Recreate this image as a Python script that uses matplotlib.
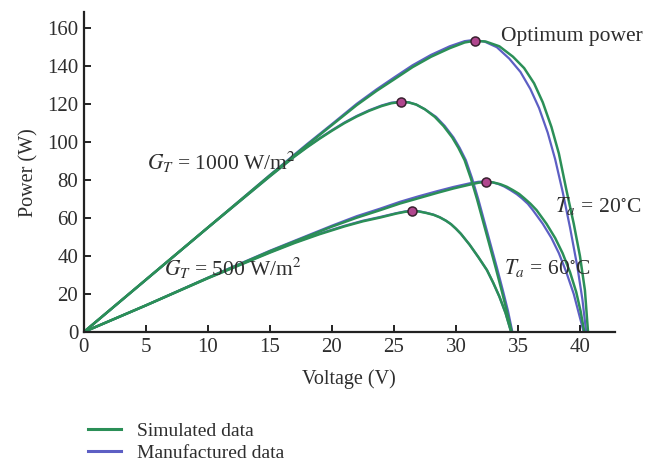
import matplotlib.pyplot as plt
from matplotlib.lines import Line2D

# values (voltage in V, power in W)
# G = 1000 W/m2, Ta = 20 C
v_a_sim = [0, 5, 10, 15, 18, 20, 22, 23.6, 25, 26.5, 28, 29.5, 30.7, 31.5, 32.4, 33.5, 34.6, 35.5, 36.3, 37.0, 37.7, 38.3, 38.9, 39.5, 40.0, 40.4, 40.65]
p_a_sim = [0, 27.5, 55, 82.5, 98.5, 109, 119.5, 127, 133, 139.5, 145, 149.5, 152.5, 153.4, 153, 150.5, 145, 139, 131, 121, 108, 94, 75, 57, 40, 22, 0]
v_a_man = [0, 5, 10, 15, 18, 20, 22, 23.6, 25, 26.5, 28, 29.5, 30.7, 31.4, 32.3, 33.3, 34.3, 35.2, 36.0, 36.7, 37.4, 38.0, 38.6, 39.2, 39.8, 40.2, 40.5]
p_a_man = [0, 27.5, 55, 82.7, 99, 109.5, 120.2, 127.8, 134, 140.5, 146, 150.5, 153.2, 153.8, 153, 150, 144, 137, 128, 118, 105, 91, 74, 55, 34, 17, 0]

# G = 1000 W/m2, Ta = 60 C
v_b_sim = [0, 5, 10, 15, 17, 18, 19, 20, 21, 22, 23, 24, 24.8, 25.6, 26.2, 26.8, 27.5, 28.3, 29.0, 29.7, 30.2, 30.7, 31.2, 31.7, 32.2, 32.7, 33.2, 33.7, 34.1, 34.5]
p_b_sim = [0, 27.5, 55, 82, 92.5, 97.3, 101.8, 106, 110, 113.5, 116.5, 119, 120.5, 121.2, 120.9, 119.8, 117.3, 113.3, 108.5, 102.5, 97, 90.5, 81, 70, 58, 46, 34, 21.5, 11, 0]
v_b_man = [0, 5, 10, 15, 17, 18, 19, 20, 21, 22, 23, 24, 24.8, 25.6, 26.2, 26.8, 27.5, 28.4, 29.1, 29.8, 30.3, 30.8, 31.3, 31.8, 32.3, 32.8, 33.3, 33.8, 34.2, 34.55]
p_b_man = [0, 27.5, 55, 82, 92.6, 97.5, 102, 106.3, 110.3, 113.8, 116.8, 119.3, 120.8, 121.3, 121, 119.8, 117.3, 113.3, 108.5, 102.5, 97, 90.5, 81, 70, 58, 46, 34, 21.5, 11, 0]

# G = 500 W/m2, Ta = 20 C
v_c_sim = [0, 5, 10, 15, 20, 22, 23.9, 25.5, 27, 28.5, 29.8, 31.1, 31.8, 32.4, 33.0, 33.6, 34.1, 34.6, 35.1, 35.5, 36.0, 36.5, 37.3, 38.0, 38.6, 39.2, 39.7, 40.05, 40.35]
p_c_sim = [0, 14, 28.5, 42.5, 55.5, 60.2, 64.2, 67.7, 70.5, 73.3, 75.6, 77.6, 78.6, 79.1, 78.8, 77.8, 76.5, 74.7, 72.7, 70.5, 67.6, 64.2, 57, 49.5, 41.5, 31.5, 21, 11, 0]
v_c_man = [0, 5, 10, 15, 20, 22, 23.9, 25.5, 27, 28.5, 29.8, 31.1, 31.8, 32.3, 32.9, 33.4, 33.9, 34.4, 34.9, 35.3, 35.8, 36.2, 37.0, 37.7, 38.3, 38.9, 39.5, 39.9, 40.3]
p_c_man = [0, 14, 28.6, 42.8, 56, 61, 65, 68.6, 71.5, 74.2, 76.4, 78.3, 79.1, 79.3, 78.9, 78, 76.6, 74.7, 72.6, 70.5, 67.5, 64.2, 57, 49.5, 41.5, 31.5, 20, 10, 0]

# G = 500 W/m2, Ta = 60 C
v_d_sim = [0, 5, 10, 15, 17, 19, 21, 22.5, 23.9, 25.2, 25.9, 26.45, 27.0, 27.6, 28.2, 28.7, 29.2, 29.6, 30.0, 30.4, 31.1, 31.8, 32.5, 33.0, 33.5, 34.0, 34.45]
p_d_sim = [0, 14, 28.3, 41.8, 46.9, 51.5, 55.6, 58.3, 60.3, 62.4, 63.3, 63.7, 63.5, 62.7, 61.7, 60.4, 58.6, 56.8, 54.4, 51.7, 46, 39.5, 32.6, 26, 18.7, 10, 0]
v_d_man = [0, 5, 10, 15, 17, 19, 21, 22.5, 23.9, 25.2, 25.9, 26.45, 27.0, 27.6, 28.2, 28.7, 29.2, 29.6, 30.0, 30.4, 31.1, 31.8, 32.5, 33.0, 33.5, 34.0, 34.45]
p_d_man = [0, 14, 28.4, 42, 47.2, 51.8, 55.9, 58.6, 60.6, 62.6, 63.5, 63.8, 63.6, 62.8, 61.8, 60.4, 58.6, 56.8, 54.4, 51.7, 46, 39.5, 32.6, 26, 18.7, 10, 0]

# optimum power points
peak_v = [31.5, 25.6, 32.4, 26.45]
peak_p = [153.4, 121.2, 79.1, 63.7]

green = '#2b8f57'
blue = '#5d5fc4'
txt = '#2e2e2e'

plt.rcParams['font.family'] = ['Liberation Serif', 'DejaVu Serif']
plt.rcParams['mathtext.fontset'] = 'stix'

fig = plt.figure(figsize=(6.45, 4.66), dpi=100)
ax = fig.add_axes([0.130, 0.2876, 0.823, 0.686])

man = [(v_a_man, p_a_man), (v_b_man, p_b_man), (v_c_man, p_c_man), (v_d_man, p_d_man)]
sim = [(v_a_sim, p_a_sim), (v_b_sim, p_b_sim), (v_c_sim, p_c_sim), (v_d_sim, p_d_sim)]
for v, p in man:
    ax.plot(v, p, color=blue, lw=1.6, solid_joinstyle='round')
for v, p in sim:
    ax.plot(v, p, color=green, lw=1.8, solid_joinstyle='round')

ax.plot(peak_v, peak_p, 'o', ms=6.5, mfc='#b0468e', mec='#3a2030', mew=1.1, zorder=5)

ax.set_xlim(0, 42.8)
ax.set_ylim(0, 168.4)
ax.set_xticks([0, 5, 10, 15, 20, 25, 30, 35, 40])
ax.set_yticks([0, 20, 40, 60, 80, 100, 120, 140, 160])
for s in ['top', 'right']:
    ax.spines[s].set_visible(False)
for s in ['left', 'bottom']:
    ax.spines[s].set_linewidth(1.6)
    ax.spines[s].set_color('#222222')
ax.tick_params(direction='in', length=5, width=1.4, labelsize=15, colors='#222222',
               labelcolor=txt, pad=4)
ax.set_xlabel('Voltage (V)', fontsize=14.5, color=txt, labelpad=9)
ax.set_ylabel('Power (W)', fontsize=14.5, color=txt, labelpad=6)

fs = 15.5
ax.text(33.6, 155.5, 'Optimum power', fontsize=fs, color=txt, va='center')
ax.text(5.1, 89.5, r'$G_T$ = 1000 W/m$^2$', fontsize=fs, color=txt, va='center')
ax.text(6.5, 33.5, r'$G_T$ = 500 W/m$^2$', fontsize=fs, color=txt, va='center')
ax.text(38.0, 66.5, r'$T_a$ = 20$^{\circ}$C', fontsize=fs, color=txt, va='center', clip_on=False)
ax.text(33.9, 33.5, r'$T_a$ = 60$^{\circ}$C', fontsize=fs, color=txt, va='center')

handles = [Line2D([], [], color=green, lw=2.2), Line2D([], [], color=blue, lw=2.2)]
fig.legend(handles, ['Simulated data', 'Manufactured data'], loc='upper left',
           bbox_to_anchor=(0.125, 0.11), frameon=False, fontsize=14, handlelength=1.7,
           labelspacing=0.2, handletextpad=0.8, labelcolor=txt, borderaxespad=0)

fig.savefig('out.png', dpi=100)
